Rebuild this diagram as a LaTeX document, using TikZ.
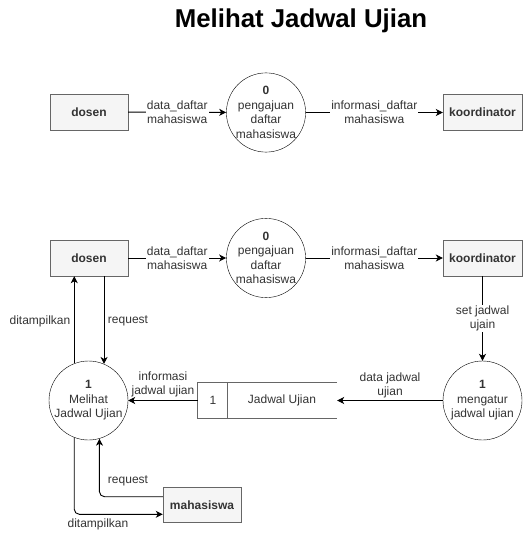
\documentclass[tikz,border=0pt]{standalone}
\usepackage{fontspec}
\setmainfont{Liberation Sans}
\usetikzlibrary{arrows.meta,calc}
\definecolor{boxfill}{HTML}{F5F5F5}
\definecolor{boxline}{HTML}{666666}
\definecolor{txt}{HTML}{333333}
\begin{document}
\begin{tikzpicture}[x=1pt,y=-1pt,
  ent/.style={draw=boxline,fill=boxfill,minimum width=78pt,minimum height=36pt,font=\fontsize{12}{14}\selectfont\bfseries,text=txt,inner sep=0pt},
  proc/.style={circle,draw=black,fill=white,minimum size=79pt,inner sep=0pt,align=center,font=\fontsize{12}{14.5}\selectfont,text=txt},
  flow/.style={draw=black,line width=0.9pt,-{Stealth[length=7pt,width=7pt,inset=2pt]}},
  lbl/.style={fill=white,align=center,font=\fontsize{12}{14}\selectfont,text=txt,inner sep=1pt},
  plain/.style={align=center,font=\fontsize{12}{14}\selectfont,text=txt,inner sep=1pt}]
\useasboundingbox (0,0) rectangle (531,534);

\node[font=\fontsize{25.8}{30}\selectfont\bfseries] (title) at (301,21) {Melihat Jadwal Ujian};

% top row
\node[ent] (dosenA) at (89,112) {dosen};
\node[proc] (pA) at (266,112.5) {{\bfseries 0}\\pengajuan\\daftar\\mahasiswa};
\node[ent, minimum width=79pt] (koorA) at (482.5,112.5) {koordinator};
\draw[flow] (dosenA) -- node[lbl]{data\_daftar\\mahasiswa} (pA);
\draw[flow] (pA) -- node[lbl]{informasi\_daftar\\mahasiswa} (koorA);

% second diagram
\node[ent] (dosenB) at (89,258) {dosen};
\node[proc] (pB) at (266,258) {{\bfseries 0}\\pengajuan\\daftar\\mahasiswa};
\node[ent, minimum width=79pt] (koorB) at (482.5,258) {koordinator};
\draw[flow] (dosenB) -- node[lbl]{data\_daftar\\mahasiswa} (pB);
\draw[flow] (pB) -- node[lbl]{informasi\_daftar\\mahasiswa} (koorB);

\node[proc] (pMel) at (88.5,400.5) {{\bfseries 1}\\Melihat\\Jadwal Ujian};
\node[proc] (pMen) at (482.5,400.5) {{\bfseries 1}\\mengatur\\jadwal ujian};

% data store
\node[minimum width=139pt,minimum height=35pt,inner sep=0pt] (store) at (267.5,400.5) {};
\draw[boxline,line width=0.9pt] (store.north east) -- (store.north west) -- (store.south west) -- (store.south east);
\draw[boxline,line width=0.9pt] ($(store.north west)+(30,0)$) -- ($(store.south west)+(30,0)$);
\node[plain] (storeid) at (213,400.5) {1};
\node[plain] (storename) at (282,400.5) {Jadwal Ujian};

\node[ent, minimum height=35pt] (mhs) at (202,505) {mahasiswa};

% flows
\draw[flow] (pMel.111.5) -- (pMel.111.5 |- dosenB.south);
\draw[flow] (pMel.67.4 |- dosenB.south) -- (pMel.67.4);
\node[plain] (lblDit1) at (40,321) {ditampilkan};
\node[plain] (lblReq1) at (128,321) {request};

\draw[flow] (koorB) -- node[lbl]{set jadwal\\ujain} (pMen);
\draw[flow] (pMen) -- node[plain, above=1pt]{data jadwal\\ujian} (store.east);
\draw[flow] (store.west) -- node[plain, above=2pt]{informasi\\jadwal ujian} (pMel);

\coordinate (reqStart) at ($(mhs.west)+(0,-8.3)$);
\coordinate (ditEnd) at ($(mhs.west)+(0,9.3)$);
\draw[flow, rounded corners=5pt] (reqStart) -- (pMel.-74.6 |- reqStart) -- (pMel.-74.6);
\draw[flow, rounded corners=5pt] (pMel.-111.5) -- (pMel.-111.5 |- ditEnd) -- (ditEnd);
\node[plain] (lblReq2) at (128,481) {request};
\node[plain] (lblDit2) at (98,524) {ditampilkan};
\end{tikzpicture}
\end{document}
